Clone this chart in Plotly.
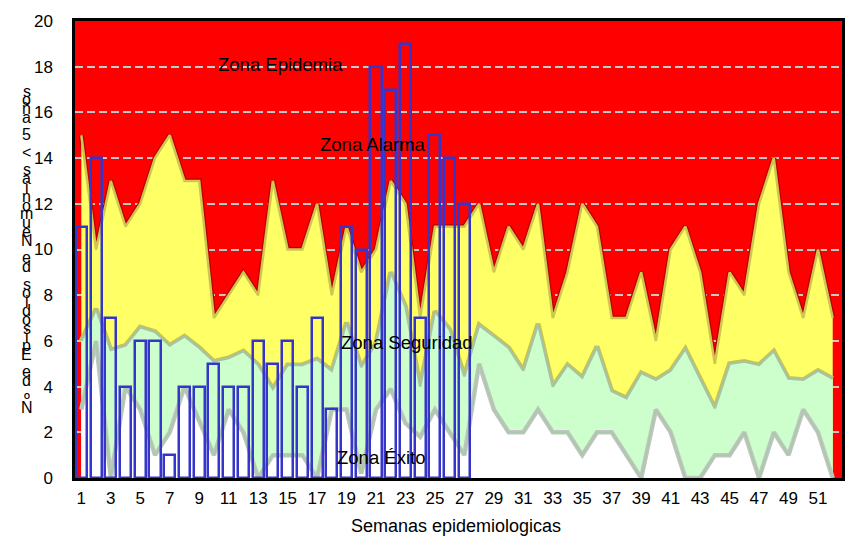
import plotly.graph_objects as go

weeks = list(range(1, 53))

# Upper limit of "Zona Alarma" (epidemic threshold)
alarm_upper = [15, 10, 13, 11, 12, 14, 15, 13, 13, 7, 8, 9, 8, 13, 10, 10, 12, 8, 11, 9,
               10, 13, 12, 7, 11, 11, 11, 12, 9, 11, 10, 12, 7, 9, 12, 11, 7, 7, 9, 6,
               10, 11, 9, 5, 9, 8, 12, 14, 9, 7, 10, 7]
# Upper limit of "Zona Seguridad"
security_upper = [6, 7.4, 5.6, 5.8, 6.6, 6.4, 5.8, 6.2, 5.7, 5.1, 5.25, 5.55, 4.95, 3.9, 4.95, 4.95, 5.2, 4.7, 6.8, 4.85,
                  5.9, 9.0, 7.5, 4.0, 7.3, 6.5, 4.45, 6.7, 6.2, 5.7, 4.7, 6.75, 4.0, 4.95, 4.4, 5.75, 3.8, 3.5, 4.6, 4.3,
                  4.7, 5.65, 4.35, 3.05, 5.0, 5.1, 4.95, 5.55, 4.35, 4.3, 4.7, 4.35]
# Upper limit of "Zona Éxito"
success_upper = [3, 6, 0, 4, 3, 1, 2, 4, 2.5, 1, 3, 2, 0, 1, 1, 1, 0, 3, 3, 0.2,
                 3, 3.9, 2.4, 1.8, 3, 2, 1, 5, 3, 2, 2, 3, 2, 2, 1, 2, 2, 1, 0, 3,
                 2, 0, 0, 1, 1, 2, 0, 2, 1, 3, 2, 0]

case_weeks = list(range(1, 28))
cases = [11, 14, 7, 4, 6, 6, 1, 4, 4, 5, 4, 4, 6, 5, 6, 4, 7, 3, 11, 10, 18, 17, 19, 7, 15, 14, 12]

x_ticks = list(range(1, 52, 2))
y_ticks = list(range(0, 21, 2))

zone_labels = ["Zona Epidemia", "Zona Alarma", "Zona Seguridad", "Zona Éxito"]
zone_label_x = [14.5, 20.8, 23.1, 21.35]
zone_label_y = [18.1, 14.6, 5.95, 0.9]

y_title = "Nº de Episodios de Neumonias < 5 años"
x_title = "Semanas epidemiologicas"

FONT = "Liberation Sans, Arial, sans-serif"
XR = [0.57, 52.63]
YR = [0, 20]

W, H = 846, 541
ML, MR, MT, MB = 75, 4, 21, 63
PW, PH = W - ML - MR, H - MT - MB

fig = go.Figure()

# Zona Alarma (yellow) with dark red shadow edge
fig.add_trace(go.Scatter(x=weeks, y=alarm_upper, mode="lines",
                         line=dict(color="#B80000", width=5), hoverinfo="skip", showlegend=False))
fig.add_trace(go.Scatter(x=weeks, y=alarm_upper, mode="lines", fill="tozeroy",
                         fillcolor="#FFFF66", line=dict(color="#CFC650", width=2.5), showlegend=False))
# Zona Seguridad (light green) with olive shadow
fig.add_trace(go.Scatter(x=weeks, y=security_upper, mode="lines",
                         line=dict(color="#C9C24E", width=5), hoverinfo="skip", showlegend=False))
fig.add_trace(go.Scatter(x=weeks, y=security_upper, mode="lines", fill="tozeroy",
                         fillcolor="#CCFFCC", line=dict(color="#A6C4A0", width=2.5), showlegend=False))
# Zona Éxito (white) with gray shadow
fig.add_trace(go.Scatter(x=weeks, y=success_upper, mode="lines", fill="tozeroy",
                         fillcolor="#FFFFFF", line=dict(color="#C4C4C4", width=4.5), showlegend=False))
fig.add_trace(go.Scatter(x=weeks, y=success_upper, mode="lines",
                         line=dict(color="#A9CBA9", width=2), hoverinfo="skip", showlegend=False))

# Cases (bars on an overlaid axis so they sit above the areas)
fig.add_trace(go.Bar(x=case_weeks, y=cases, width=0.75, xaxis="x2", yaxis="y2",
                     marker=dict(color="rgba(0,0,0,0)", line=dict(color="#3535CC", width=2.5)),
                     showlegend=False))

fig.update_layout(
    width=W, height=H,
    margin=dict(l=ML, r=MR, t=MT, b=MB, autoexpand=False),
    paper_bgcolor="white",
    plot_bgcolor="#FF0000",
    font=dict(family=FONT, size=17, color="black"),
    bargap=0,
    xaxis=dict(range=XR, tickmode="array", tickvals=x_ticks, ticktext=[str(t) for t in x_ticks],
               showgrid=False, zeroline=False, showline=True, linecolor="black", linewidth=2.5,
               mirror=True, ticks="", ticklabelstandoff=3, automargin=False),
    yaxis=dict(range=YR, tickmode="array", tickvals=y_ticks, ticktext=[str(t) for t in y_ticks],
               showgrid=True, gridcolor="#C8C8C8", gridwidth=2, griddash="8px,4px",
               zeroline=False, showline=True, linecolor="black", linewidth=2.5, mirror=True,
               ticks="", ticklabelstandoff=16, automargin=False),
    xaxis2=dict(range=XR, overlaying="x", visible=False, showgrid=False, zeroline=False),
    yaxis2=dict(range=YR, overlaying="y", visible=False, showgrid=False, zeroline=False),
)

annotations = []
for txt, xv, yv in zip(zone_labels, zone_label_x, zone_label_y):
    annotations.append(dict(x=xv, y=yv, xref="x", yref="y", text=txt, showarrow=False,
                            font=dict(size=18.5, color="black", family=FONT),
                            xanchor="center", yanchor="middle"))

# x-axis title
annotations.append(dict(x=(456 - ML) / PW, y=(MT + PH - 526) / PH, xref="paper", yref="paper",
                        text=x_title, showarrow=False, font=dict(size=18, color="black", family=FONT),
                        xanchor="center", yanchor="middle"))

# stacked vertical y-axis title: characters stacked bottom-to-top
chars = [c for c in y_title]
top_px, bottom_px = 91, 407
n = len(chars)
for i, c in enumerate(chars):
    if c == " ":
        continue
    ypx = bottom_px - (bottom_px - top_px) * i / (n - 1)
    annotations.append(dict(x=(27 - ML) / PW, y=(MT + PH - ypx) / PH, xref="paper", yref="paper",
                            text=c, showarrow=False, font=dict(size=16, color="black", family=FONT),
                            xanchor="center", yanchor="middle"))
fig.update_layout(annotations=annotations)

fig.write_html("out.html", config={"displayModeBar": False},
               post_script="document.body.style.margin='0px';")
